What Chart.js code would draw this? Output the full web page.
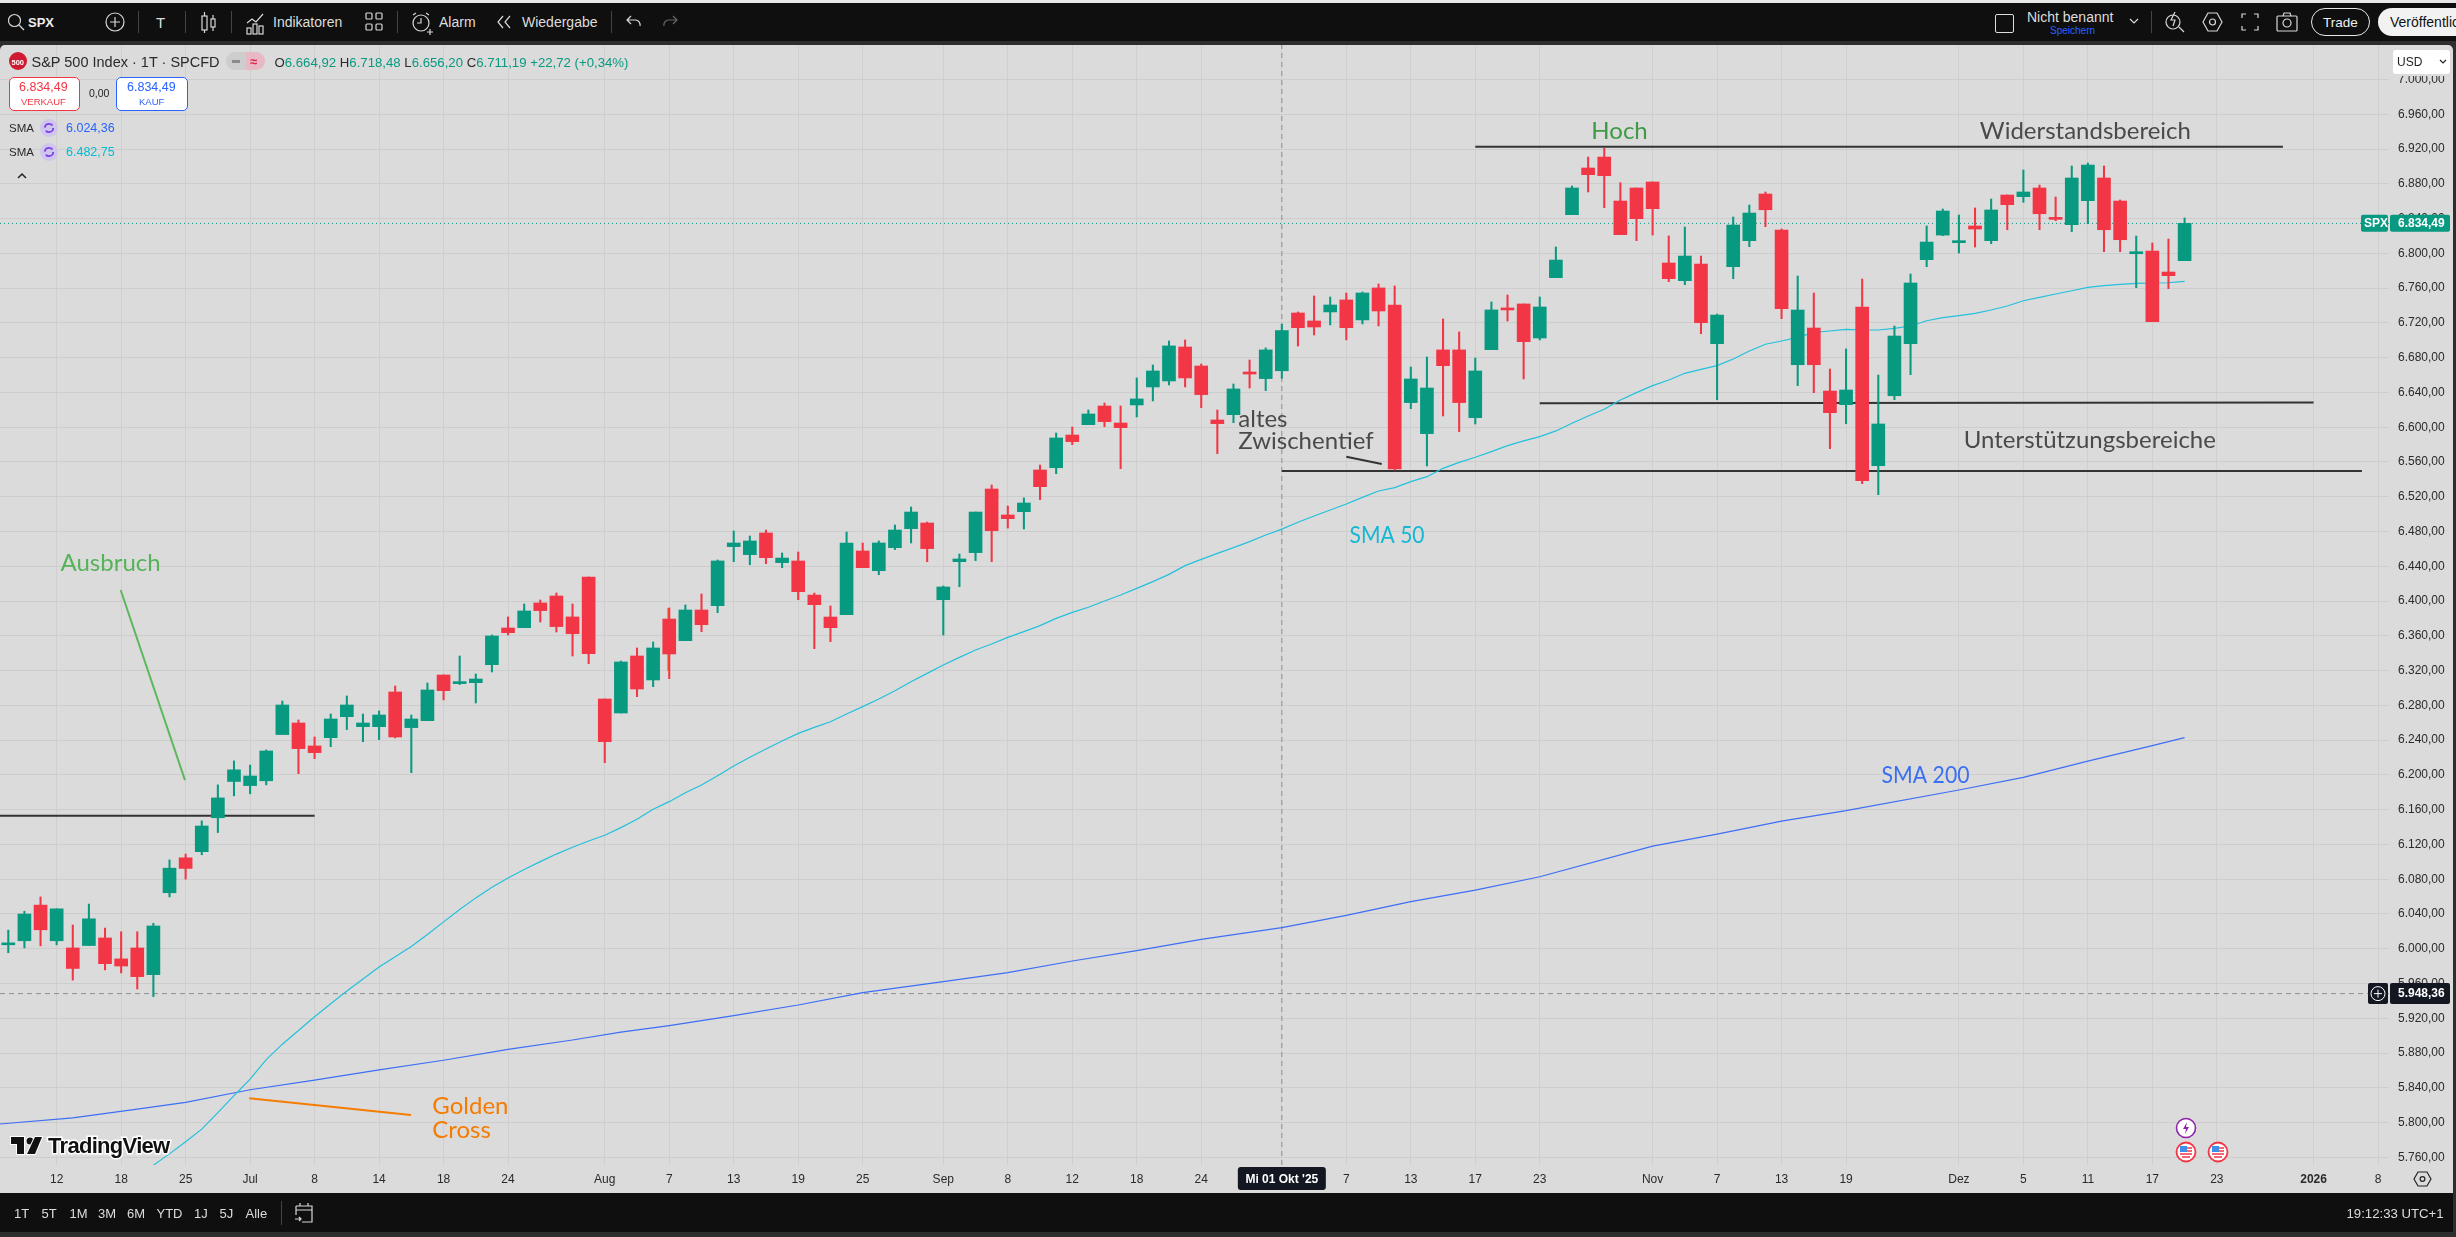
<!DOCTYPE html>
<html>
<head>
<meta charset="utf-8">
<title>SPX</title>
<script src="https://cdn.jsdelivr.net/npm/chart.js@4/dist/chart.umd.min.js"></script>
<style>
html, body { margin: 0; padding: 0; width: 2456px; height: 1237px; overflow: hidden; background: #2e2e2e; }
canvas { position: absolute; left: 0; top: 0; }
#ui { position: absolute; left: 0; top: 0; width: 2456px; height: 1237px; font-family: "Liberation Sans", sans-serif; }
#ui div { position: absolute; white-space: nowrap; }
#ui svg { position: absolute; overflow: visible; }
</style>
</head>
<body>
<canvas id="spxChart" width="2456" height="1237"></canvas>
<div id="ui"></div>
<script>
// Daily candles 9 Jun - 19 Dec 2025
const opens = [6004.5,6009.2,6050.2,6009.2,6000.9,6003.7,6012.4,5988.3,6000.9,5970.2,6064.4,6104.6,6111.7,6150.7,6192.4,6187.7,6193.2,6246.4,6259.7,6233.3,6242.8,6267,6255.5,6255.5,6295.4,6254.4,6262.4,6314.9,6305,6306.1,6326.8,6369,6369.4,6397.8,6405.8,6381.7,6427.7,6287.3,6271.2,6336.8,6309.2,6379.3,6354.4,6389.7,6394.7,6462.6,6453.4,6478.3,6444.2,6446.1,6406.9,6381.6,6384.3,6457.6,6434.9,6461.4,6483.3,6489.8,6401.6,6445.3,6455.7,6528.9,6499,6502.8,6550.8,6553.4,6591,6602.9,6624.4,6604.8,6625.6,6646.3,6653.2,6692.3,6670.4,6608.3,6614.4,6662.4,6655.9,6664.92,6731.4,6722.2,6732.6,6746.4,6723.4,6760.2,6740.6,6628.3,6592.6,6688.9,6688.9,6611,6689.2,6737.2,6741.8,6702.6,6772,6844.5,6898.2,6910.8,6860.2,6875.2,6882.1,6788.9,6768.6,6787.7,6696.1,6784.7,6814.6,6868.3,6826.9,6671.9,6714.1,6641.6,6625.9,6738.3,6555.7,6636.2,6696.1,6792.7,6821,6812.3,6831.5,6814.6,6867.1,6865.2,6875.2,6840.7,6833,6860.6,6886.7,6860.2,6799.6,6802.7,6778.5,6791.6];
const highs = [6021.4,6043.1,6059.6,6045.9,6027.3,6051.4,6023.8,6019.5,6019.5,6029.3,6102.2,6108.9,6147.1,6188.5,6216.1,6211.3,6228.7,6285,6263.2,6243.6,6270,6290.8,6270,6273.5,6302.3,6268.9,6305.7,6315,6336.8,6316.1,6361,6381.7,6396.6,6401.2,6409.3,6396.6,6427.7,6287.3,6331,6346,6352.9,6392,6395.5,6408.1,6447.2,6480.6,6474.8,6481.7,6455.3,6456.4,6409.2,6394.3,6479.4,6466.8,6469.1,6487.5,6508.2,6490.9,6417.3,6454.1,6502.4,6533.5,6509.3,6518.6,6556.5,6593.3,6600.2,6619.8,6627.8,6624.4,6656.7,6671.6,6699.2,6700.4,6672.7,6619.8,6649.7,6677.3,6691.2,6718.48,6732.6,6751,6749.8,6754.4,6755.6,6764.8,6762.5,6669.3,6680.8,6724.5,6709.6,6679.6,6744.1,6752.1,6741.8,6749.8,6807.3,6877.5,6910.8,6920.8,6881.3,6875.2,6882.1,6820,6830.3,6796.9,6730.2,6841.8,6855.6,6870.6,6828,6773.9,6754.4,6666.9,6690,6770.5,6660,6716.4,6776.2,6831.5,6851,6844.1,6852.2,6862.5,6867.1,6895.9,6878.6,6864.8,6900.5,6903.9,6900.5,6861.4,6819.9,6811.9,6816.5,6840.7];
const lows = [5995.4,6000.9,6003.3,6004.5,5963.9,6003.7,5975.7,5972.2,5953.7,5945,6059.6,6080.1,6108.1,6133.7,6175.9,6178.2,6188.5,6246.4,6201.4,6218.7,6232.5,6252.1,6238.2,6240.6,6242.5,6202.6,6262.4,6286.2,6304,6282.7,6318.4,6361,6369.4,6375.9,6364.4,6336.8,6328,6214.1,6271.2,6290,6301.5,6310.7,6354.4,6364.8,6386.6,6445.3,6441.8,6443,6438.4,6401.6,6345.2,6353.3,6384.3,6438.4,6430.3,6459.1,6466.8,6445.3,6360.9,6416.5,6446.5,6445.3,6484,6482.9,6516.6,6546.5,6579.9,6602.9,6600.6,6552.3,6611.8,6630.2,6648.6,6646.3,6622.5,6569.6,6605.2,6645.1,6642.1,6656.2,6693.4,6706.1,6717.6,6700.4,6718.8,6716.5,6550.8,6621.3,6555.4,6612.9,6594.9,6603.7,6689.2,6722.2,6655.5,6700.4,6772,6844.5,6870.6,6852.5,6821.5,6814.6,6821.1,6767.4,6764,6707.6,6631.6,6770.9,6807.7,6830.7,6724.8,6647.8,6639.7,6575.3,6604,6535,6522.4,6631.6,6660.4,6784.7,6820.3,6800.4,6807.3,6811.1,6827.2,6858.7,6827.2,6837.6,6825,6834.1,6801.9,6801.9,6760.5,6721.4,6759.4,6791.6];
const closes = [6006.5,6039.9,6021.8,6045.9,5977.3,6034.4,5982.8,5980.1,5967.9,6026.2,6092.7,6092.4,6141.2,6173.5,6205.8,6198.7,6227.5,6280.4,6230.2,6225.6,6264.3,6280.4,6259.7,6268.9,6243.6,6264.3,6297.7,6296.9,6305.7,6310.3,6359.8,6363.6,6388.6,6389,6370.6,6362.5,6339.5,6238.2,6329.9,6298.8,6346,6339.1,6389.7,6372.8,6446.1,6466.8,6469.1,6449.9,6449.5,6410.8,6395.8,6369.4,6466.8,6438.4,6466.8,6481.7,6502.4,6460.3,6416.2,6448.4,6502.4,6481,6494.8,6512.8,6531.6,6587.6,6583.4,6615.2,6606.4,6599.5,6632.5,6664.7,6693.5,6656.7,6637.5,6604.1,6644,6661.2,6688.9,6711.19,6714.5,6715.3,6740.6,6714.5,6754.4,6733.7,6551.9,6655.5,6645.1,6670.8,6628.3,6664.7,6734.9,6734.9,6698.4,6738.3,6792.3,6875.2,6890.5,6889.4,6821.5,6839.9,6851.4,6770.9,6796.9,6720.2,6729,6832.6,6846.4,6850.2,6736.3,6734.8,6671.9,6616.7,6642.8,6538.5,6603.7,6704.9,6765.9,6813,6848.7,6813,6828,6849.9,6856,6870.6,6845.6,6839.1,6886.7,6901.6,6827.2,6815.7,6800.4,6721.4,6774.3,6834.49];

// SMA 50 is read bar by bar, starting at bar 9
const sma50Start = 9;
const sma50 = [5751,5764,5778,5792.5,5811.4,5831.1,5850,5872.5,5890.2,5906,5921.8,5936.7,5951.3,5965.1,5978.9,5990.7,6002.5,6016.3,6030.9,6045.1,6058.5,6070.7,6081.3,6091.2,6100.2,6108.9,6116.8,6123.9,6130.6,6139.3,6148.9,6160.4,6169.2,6179.5,6188.4,6199.1,6210.2,6220.2,6229.8,6239,6247.8,6254.7,6261.2,6270,6278.5,6287.3,6296.9,6307.2,6316.8,6326.4,6335.2,6343.7,6350.6,6358.2,6364.8,6371.7,6380.1,6387,6392.8,6400,6407,6414.6,6422.3,6430.7,6440.7,6448,6454.8,6461.4,6468.3,6476,6482.75,6490.6,6497.9,6504.8,6511.7,6519.3,6526.6,6530.5,6537.4,6543.1,6552.7,6559.6,6565.4,6571.9,6578.8,6584.2,6589.1,6595.7,6604.5,6612.9,6620.6,6631.3,6639.8,6647.8,6654.3,6662,6666.6,6670.8,6678.5,6687.7,6695.4,6699.2,6703.4,6709.1,6710.7,6712.6,6711.8,6711.8,6713.7,6716.4,6722.5,6726,6728.3,6731,6734.8,6739.4,6745.5,6749.4,6753.2,6757,6760.9,6762.8,6764.3,6765.5,6765.9,6766.2,6767.8];

// SMA 200 is smooth enough to read every few bars
const sma200Bars = [-1,4,8,11,15,19,23,27,31,35,38,41,45,49,53,58,62,66,70,74,79,83,87,91,95,102,106,110,114,121,125,129,133,135];
const sma200 = [5797.6,5805.5,5815.4,5823.2,5837.8,5848.9,5860.7,5871.7,5884.3,5895,5904,5911.5,5923,5935.3,5949.5,5962.1,5972.5,5985.9,5997.8,6010.8,6024.36,6038.4,6054.1,6067.5,6082.8,6118.1,6131.9,6146.9,6158.8,6182.6,6197.1,6215.9,6233.6,6242.8];

// time axis
const dateBars = [3,7,11,15,19,23,27,31,37,41,45,49,53,58,62,66,70,74,79,83,87,91,95,102,106,110,114,121,125,129,133,137,143,147];
const dateLabels = ["12","18","25","Jul","8","14","18","24","Aug","7","13","19","25","Sep","8","12","18","24","Mi 01 Okt '25","7","13","17","23","Nov","7","13","19","Dez","5","11","17","23","2026","8"];
const crossBar = 79;
const yearBar = 143;

// price axis
const priceTicks = [5760,5800,5840,5880,5920,5960,6000,6040,6080,6120,6160,6200,6240,6280,6320,6360,6400,6440,6480,6520,6560,6600,6640,6680,6720,6760,6800,6840,6880,6920,6960,7000];
const lastPrice = 6834.49;
const markedPrice = 5948.36;

// drawings on the chart: [bar, price, bar, price]
const resistanceLine = [91, 6922.5, 141.1, 6922.5];
const supportHigh = [95, 6627.5, 143, 6628.5];
const supportLow = [79, 6549.6, 146, 6549.6];
const breakoutLine = [-1, 6152.9, 19, 6152.9];
const pointerBlack = [83, 6566.1, 85.2, 6557.7];
const pointerGreen = [6.97, 6412.7, 10.96, 6194];
const pointerOrange = [14.94, 5828, 24.98, 5808.7];
const wickOrange = [40.94, 6392, 40.94, 6319.9];

// labels on the chart: text, bar, price, colour
const notes = [
  ["Hoch", 98.2, 6941, "#3f9a45"],
  ["Widerstandsbereich", 122.3, 6941, "#4a4a4a"],
  ["Unterstützungsbereiche", 121.3, 6585.3, "#4a4a4a"],
  ["altes", 76.3, 6609.4, "#4a4a4a"],
  ["Zwischentief", 76.3, 6583.3, "#4a4a4a"],
  ["SMA 50", 83.2, 6476, "#14b8d4"],
  ["SMA 200", 116.2, 6200, "#3a6ff0"],
  ["Golden", 26.3, 5819.3, "#f57c00"],
  ["Cross", 26.3, 5791.7, "#f57c00"],
  ["Ausbruch", 3.24, 6444, "#55b35a"]
];
// these two are narrower in the reference
const squeezed = { "SMA 50": 75, "SMA 200": 88 };

const upColor = "#089981";
const downColor = "#f23645";
const barColors = closes.map((c, i) => (c >= opens[i] ? upColor : downColor));
const germanPrice = v => v.toLocaleString("de-DE", { minimumFractionDigits: 2, maximumFractionDigits: 2 });

function segment(pts, color, width, order, dash) {
  return {
    type: "line",
    data: [{ x: pts[0], y: pts[1] }, { x: pts[2], y: pts[3] }],
    borderColor: color,
    borderWidth: width,
    borderDash: dash || [],
    pointRadius: 0,
    order: order
  };
}

const xMin = -0.515;
const xMax = 147.68;
const yMin = 5751.2;
const yMax = 7039.7;

const panelPlugin = {
  id: "panel",
  beforeDraw(chart) {
    const c = chart.ctx;
    const x = chart.scales.x;
    c.save();
    c.fillStyle = "#dbdbdb";
    c.beginPath();
    c.roundRect(0, 45, 2453, 1148, [5, 5, 0, 0]);
    c.fill();
    const px = x.getPixelForValue(crossBar);
    c.fillStyle = "#131722";
    c.beginPath();
    c.roundRect(px - 44, 1167, 88, 23, 3);
    c.fill();
    c.restore();
  },
  afterDatasetsDraw(chart) {
    const c = chart.ctx;
    const { x, y } = chart.scales;
    c.save();
    c.textBaseline = "middle";
    c.font = '24px "Lato", sans-serif';
    notes.forEach(n => {
      c.fillStyle = n[3];
      c.fillText(n[0], x.getPixelForValue(n[1]), y.getPixelForValue(n[2]), squeezed[n[0]]);
    });
    c.restore();
  },
  afterDraw(chart) {
    const c = chart.ctx;
    const y = chart.scales.y;
    const right = chart.chartArea.right;
    c.save();
    c.textBaseline = "middle";
    // last price tag
    const yLast = y.getPixelForValue(lastPrice);
    c.fillStyle = upColor;
    c.beginPath(); c.roundRect(right - 28, yLast - 8.5, 27, 17, 2); c.fill();
    c.beginPath(); c.roundRect(right + 1, yLast - 8.5, 60, 17, 2); c.fill();
    c.fillStyle = "#fff";
    c.font = 'bold 12px "Liberation Sans", sans-serif';
    c.textAlign = "left";
    c.fillText("SPX", right - 25, yLast + 0.5);
    c.fillText(germanPrice(lastPrice), right + 9, yLast + 0.5);
    // crosshair price tag
    const yMark = y.getPixelForValue(markedPrice);
    c.fillStyle = "#131722";
    c.beginPath(); c.roundRect(right - 21, yMark - 10.5, 20, 21, 2); c.fill();
    c.beginPath(); c.roundRect(right + 1, yMark - 10.5, 60, 21, 2); c.fill();
    c.fillStyle = "#fff";
    c.fillText(germanPrice(markedPrice), right + 9, yMark + 0.5);
    c.strokeStyle = "#fff";
    c.lineWidth = 1;
    c.beginPath(); c.arc(right - 11, yMark, 7, 0, Math.PI * 2); c.stroke();
    c.beginPath();
    c.moveTo(right - 15, yMark); c.lineTo(right - 7, yMark);
    c.moveTo(right - 11, yMark - 4); c.lineTo(right - 11, yMark + 4);
    c.stroke();
    c.restore();
  }
};

new Chart(document.getElementById("spxChart"), {
  type: "bar",
  plugins: [panelPlugin],
  data: {
    datasets: [
      {
        data: closes.map((v, i) => ({ x: i, y: [opens[i], v] })),
        backgroundColor: barColors,
        barThickness: 13,
        minBarLength: 2,
        grouped: false,
        order: 0
      },
      {
        data: closes.map((v, i) => ({ x: i, y: [lows[i], highs[i]] })),
        backgroundColor: barColors,
        barThickness: 1.4,
        grouped: false,
        order: 1
      },
      segment(wickOrange, "#f57c00", 2, 2),
      {
        type: "line",
        data: sma50.map((v, i) => ({ x: sma50Start + i, y: v })),
        borderColor: "#22c1dc",
        borderWidth: 1.2,
        pointRadius: 0,
        tension: 0,
        order: 3
      },
      {
        type: "line",
        data: sma200.map((v, i) => ({ x: sma200Bars[i], y: v })),
        borderColor: "#3d6ff5",
        borderWidth: 1.2,
        pointRadius: 0,
        tension: 0,
        order: 3
      },
      segment(resistanceLine, "#333333", 2, 4),
      segment(supportHigh, "#333333", 2, 4),
      segment(supportLow, "#333333", 2, 4),
      segment(breakoutLine, "#333333", 2, 4),
      segment(pointerBlack, "#333333", 2, 4),
      segment(pointerGreen, "#5cb85c", 2, 4),
      segment(pointerOrange, "#f57c00", 2, 4),
      segment([xMin, lastPrice, xMax, lastPrice], upColor, 1, 5, [1, 3]),
      segment([xMin, markedPrice, xMax, markedPrice], "#8f8f8f", 1, 5, [5, 4]),
      segment([crossBar, yMin, crossBar, yMax], "#8f8f8f", 1, 5, [5, 4])
    ]
  },
  options: {
    responsive: false,
    devicePixelRatio: 1,
    animation: false,
    events: [],
    layout: { padding: { left: 0, right: 0, top: 45, bottom: 44 } },
    plugins: { legend: { display: false }, tooltip: { enabled: false } },
    scales: {
      x: {
        type: "linear",
        offset: false,
        min: xMin,
        max: xMax,
        grid: { color: "#cfcfcf", drawTicks: false, offset: false },
        border: { display: false },
        afterBuildTicks: s => { s.ticks = dateBars.map(v => ({ value: v })); },
        afterFit: s => { s.height = 28; },
        ticks: {
          autoSkip: false,
          maxRotation: 0,
          padding: 7,
          color: c => (c.tick.value === crossBar ? "#ffffff" : "#2a2a2a"),
          font: c => ({
            family: '"Liberation Sans", sans-serif',
            size: 12,
            weight: c.tick && (c.tick.value === crossBar || c.tick.value === yearBar) ? "bold" : "normal"
          }),
          callback: v => dateLabels[dateBars.indexOf(v)]
        }
      },
      y: {
        position: "right",
        min: yMin,
        max: yMax,
        grid: { color: "#cdcdcd", drawTicks: false },
        border: { display: false },
        afterBuildTicks: s => { s.ticks = priceTicks.map(v => ({ value: v })); },
        afterFit: s => { s.width = 67; },
        ticks: {
          autoSkip: false,
          padding: 9,
          color: "#2a2a2a",
          font: { family: '"Liberation Sans", sans-serif', size: 12 },
          callback: v => germanPrice(v)
        }
      }
    }
  }
});

// TradingView window around the chart
const ui = document.getElementById("ui");

function box(x, y, w, h, css) {
  const d = document.createElement("div");
  d.style.cssText = `left:${x}px;top:${y}px;width:${w}px;height:${h}px;${css || ""}`;
  ui.appendChild(d);
  return d;
}
function label(str, x, y, size, color, css) {
  const d = document.createElement("div");
  d.textContent = str;
  d.style.cssText = `left:${x}px;top:${y}px;font-size:${size}px;color:${color};transform:translateY(-50%);${css || ""}`;
  ui.appendChild(d);
  return d;
}
function icon(x, y, inner) {
  ui.insertAdjacentHTML("beforeend", `<svg style="left:${x}px;top:${y}px" width="24" height="24" fill="none" stroke="#d8d8d8" stroke-width="1.2">${inner}</svg>`);
}

// strips
box(0, 0, 2456, 3, "background:#e8e8e8");
box(0, 3, 2456, 38, "background:#0f0f0f");
box(0, 1193, 2453, 39, "background:#0f0f0f");

// top toolbar, left
icon(8, 14, '<circle cx="6.5" cy="6.5" r="6"/><path d="M11 11l5 5"/>');
label("SPX", 28, 22, 13, "#eee", "font-weight:bold");
icon(105, 12, '<circle cx="10" cy="10" r="9"/><path d="M10 5v10M5 10h10"/>');
[138, 185, 231, 397, 611, 2151].forEach(x => box(x, 11, 1, 22, "background:#444"));
label("T", 156, 22, 15, "#ddd");
icon(200, 11, '<rect x="2" y="5" width="5" height="14"/><path d="M4.5 1v4M4.5 19v3"/><rect x="11" y="8" width="4" height="8"/><path d="M13 4v4M13 16v4"/>');
icon(246, 11, '<path d="M1 12l5-4 4 3 7-8"/><rect x="1" y="17" width="4" height="6"/><rect x="7" y="13" width="4" height="10"/><rect x="13" y="15" width="4" height="8"/>');
label("Indikatoren", 273, 22, 14, "#ddd");
icon(366, 13, '<rect x="0" y="0" width="6" height="6" rx="1"/><rect x="10" y="0" width="6" height="6" rx="1"/><rect x="0" y="11" width="6" height="6" rx="1"/><rect x="10" y="11" width="6" height="6" rx="1"/>');
icon(411, 12, '<circle cx="10" cy="11" r="8"/><path d="M10 6v5h-4M2 3l3-2M18 3l-3-2M16 20h6M19 17v6"/>');
label("Alarm", 439, 22, 14, "#ddd");
icon(497, 16, '<path d="M6 0l-5 6 5 6M13 0l-5 6 5 6"/>');
label("Wiedergabe", 522, 22, 14, "#ddd");
icon(626, 15, '<path d="M1 5h9a5 5 0 0 1 4 6M5 1L1 5l4 4"/>');
ui.insertAdjacentHTML("beforeend", '<svg style="left:664px;top:15px" width="24" height="24" fill="none" stroke="#666" stroke-width="1.2"><path d="M13 5H4a5 5 0 0 0-4 6M9 1l4 4-4 4"/></svg>');

// top toolbar, right
box(1995, 14, 17, 17, "border:1px solid #ddd;border-radius:2px");
label("Nicht benannt", 2027, 17, 14, "#ddd");
label("Speichern", 2050, 30, 10, "#2962ff");
icon(2130, 19, '<path d="M0 0l4 4 4-4"/>');
icon(2165, 11, '<circle cx="8" cy="11" r="7"/><path d="M14 16l5 5M10 1l-4 8h4l-2 6"/>');
icon(2203, 12, '<path d="M5 1h9l5 9-5 9H5L0 10z"/><circle cx="9.5" cy="10" r="3"/>');
icon(2242, 14, '<path d="M0 4V0h4M12 0h4v4M16 12v4h-4M4 16H0v-4"/>');
icon(2277, 13, '<rect x="0" y="3" width="20" height="15" rx="1"/><circle cx="10" cy="10" r="4"/><path d="M6 3l1-3h6l1 3"/>');
box(2311, 8, 57, 26, "border:1.5px solid #e8e8e8;border-radius:14px");
label("Trade", 2323, 22, 13.5, "#eee");
box(2378, 8, 78, 28, "background:#f2f2f2;border-radius:14px 0 0 14px;overflow:hidden");
label("Veröffentlichen", 2390, 22, 14, "#111", "width:66px;overflow:hidden;");

// USD box, the top tick slides under it
box(2391, 48, 61, 28, "background:#dbdbdb");
box(2393, 50, 57, 24, "background:#fff;border-radius:3px");
label("USD", 2397, 62, 12, "#222");
icon(2440, 60, '<path d="M0 0l3 3 3-3" stroke="#222"/>');

// legend, top left
box(9, 52, 18, 18, "background:#cf1a32;border-radius:50%");
label("500", 11.5, 61.5, 7.5, "#fff", "font-weight:bold");
label("S&P 500 Index · 1T · SPCFD", 31.5, 61.5, 14.5, "#2a2a2a");
box(226, 52, 20, 18, "background:#cdcdcd;border-radius:9px 0 0 9px");
box(246, 52, 19, 18, "background:#e6b9c5;border-radius:0 9px 9px 0");
box(232, 60, 8, 2.5, "background:#8a8a8a");
label("≈", 250, 60.5, 13, "#e0204a", "font-weight:bold");
const ohlc = label("", 274.5, 61.5, 13.2, "#089981");
ohlc.innerHTML = '<span style="color:#2a2a2a">O</span>6.664,92 <span style="color:#2a2a2a">H</span>6.718,48 <span style="color:#2a2a2a">L</span>6.656,20 <span style="color:#2a2a2a">C</span>6.711,19 +22,72 (+0,34%)';

box(9, 77, 69, 32, "background:#fff;border:1px solid #f23645;border-radius:5px");
label("6.834,49", 19, 87, 12.5, "#f23645");
label("VERKAUF", 21, 101, 9.5, "#f23645");
label("0,00", 89, 93, 10.5, "#222");
box(116, 77, 70, 32, "background:#fff;border:1px solid #2962ff;border-radius:5px");
label("6.834,49", 127, 87, 12.5, "#2962ff");
label("KAUF", 139, 101, 9.5, "#2962ff");

[[127.5, "6.024,36", "#2962ff"], [151.5, "6.482,75", "#00bcd4"]].forEach(r => {
  label("SMA", 9, r[0], 11.5, "#2a2a2a");
  box(40, r[0] - 9, 18, 18, "background:#cfc6ee;border-radius:50%");
  icon(44, r[0] - 5, '<circle cx="5" cy="5" r="4.2" stroke="#7b3fe4" stroke-width="1.8" stroke-dasharray="10 3.2"/>');
  label(r[1], 66, r[0], 12.5, r[2]);
});
icon(18, 174, '<path d="M0 4l4-4 4 4" stroke="#222" stroke-width="1.5"/>');

// watermark
ui.insertAdjacentHTML("beforeend", '<svg style="left:11px;top:1136px" width="34" height="20"><g fill="#111" stroke="#fff" stroke-width="2" paint-order="stroke"><path d="M0 1h13v17H6V8H0z"/><circle cx="19" cy="5" r="3.5"/><path d="M24 1h7l-7 17h-8z"/></g></svg>');
label("TradingView", 48, 1146, 22, "#111", 'font-weight:bold;letter-spacing:-0.7px;-webkit-text-stroke:3px #fff;paint-order:stroke fill;');

// events
ui.insertAdjacentHTML("beforeend", '<svg style="left:2175px;top:1117px" width="22" height="22"><circle cx="11" cy="11" r="9.5" fill="#fff" stroke="#8e24aa" stroke-width="1.6"/><path d="M12 5l-4 7h3l-1 5 4-7h-3z" fill="#8e24aa"/></svg>');
[2175, 2207].forEach(x => {
  ui.insertAdjacentHTML("beforeend", `<svg style="left:${x}px;top:1141px" width="22" height="22"><circle cx="11" cy="11" r="9.5" fill="#fff" stroke="#f23645" stroke-width="1.8"/><rect x="5" y="5" width="7" height="6" fill="#3f8fe8"/><path d="M12 7h5M12 10h5M5 13h12M7 16h8" stroke="#f23645" stroke-width="1.6"/></svg>`);
});

// axis settings
icon(2414, 1171, '<path d="M4 1h9l4 7-4 7H4L0 8z" stroke="#222"/><circle cx="8.5" cy="8" r="2.4" stroke="#222"/>');

// bottom toolbar
[["1T", 14], ["5T", 41.5], ["1M", 69.5], ["3M", 98], ["6M", 127], ["YTD", 156.5], ["1J", 194], ["5J", 219.5], ["Alle", 245.5]].forEach(r => {
  label(r[0], r[1], 1213, 13, "#ddd");
});
box(281, 1201, 1, 24, "background:#444");
icon(295, 1203, '<path d="M1 3h16v16H7M1 3v9M1 7h16M5 0v3M13 0v3M0 16h6M4 14l2 2-2 2"/>');
label("19:12:33 UTC+1", 2346.5, 1213, 13.2, "#ddd");
</script>
</body>
</html>
